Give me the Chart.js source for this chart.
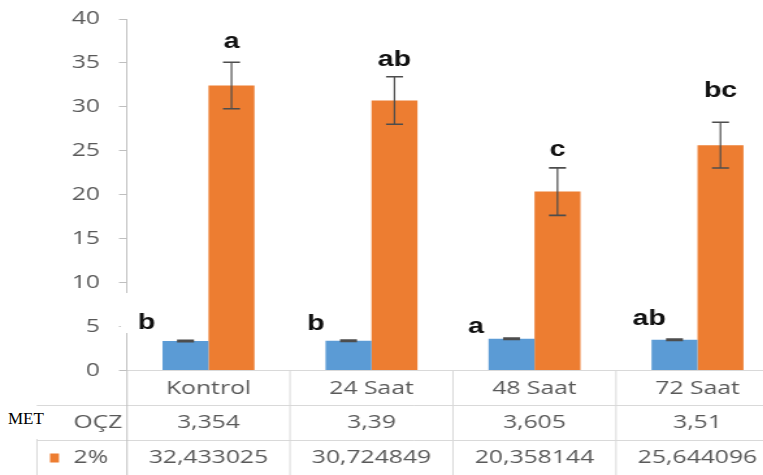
<!DOCTYPE html>
<html>
<head>
<meta charset="utf-8">
<script src="https://cdn.jsdelivr.net/npm/chart.js@4"></script>
<style>
  html, body { margin: 0; padding: 0; background: #fff; overflow: hidden; width: 763px; height: 475px; }
  #wrap { position: relative; width: 763px; height: 475px; overflow: hidden; }
  #c { position: absolute; left: 0; top: 0; transform: scaleX(1.3); transform-origin: 0 0; }
  #met { position: absolute; left: 0; top: 406px; width: 72px; height: 33px; background: #fff;
         font: 17px "Liberation Serif", "Times New Roman", serif; color: #000;
         line-height: 26px; padding-left: 8px; box-sizing: border-box; }
</style>
</head>
<body>
<div id="wrap">
  <canvas id="c" width="608" height="475"></canvas>
  <div id="met">MET</div>
</div>
<script>
// Categories and series
const categories = ['Kontrol', '24 Saat', '48 Saat', '72 Saat'];
const seriesNames = ['OÇZ', '2%'];
const valuesOCZ = [3.354, 3.39, 3.605, 3.51];
const values2 = [32.433025, 30.724849, 20.358144, 25.644096];
// Error bar half-lengths
const errorsOCZ = [0.08, 0.08, 0.08, 0.08];
const errors2 = [2.65, 2.7, 2.7, 2.6];
// Significance letters
const lettersOCZ = ['b', 'b', 'a', 'ab'];
const letters2 = ['a', 'ab', 'c', 'bc'];
// Value axis
const yMin = 0, yMax = 40, yStep = 5;

const BLUE = '#5b9bd5', ORANGE = '#ed7d31';
const TEXT = '#595959', RULE = '#d9d9d9', AXIS = '#bfbfbf';
const K = 1.3;               // horizontal stretch applied to the canvas
const sx = v => v / K;       // screen px -> canvas px (horizontal)
const fmt = v => String(v).replace('.', ',');

const errorSets = [errorsOCZ, errors2];

// Error bars plus significance letters
const annotate = {
  id: 'annotate',
  beforeDatasetsDraw(chart, args, opts) {
    // white label boxes behind the letters of the first series
    const {ctx} = chart;
    const meta = chart.getDatasetMeta(0);
    const y = chart.scales.y;
    ctx.save();
    ctx.font = opts.font;
    meta.data.forEach((bar, i) => {
      const cx = bar.x + sx(opts.shiftOCZ[i]);
      const base = y.getPixelForValue(valuesOCZ[i]) - opts.liftOCZ[i];
      const w = ctx.measureText(lettersOCZ[i]).width;
      ctx.fillStyle = '#fff';
      ctx.fillRect(cx - w / 2 - sx(17), base - 36, w + sx(21), 40);
    });
    ctx.restore();
  },
  afterDatasetsDraw(chart, args, opts) {
    const {ctx} = chart;
    const y = chart.scales.y;
    ctx.save();
    chart.data.datasets.forEach((ds, d) => {
      const meta = chart.getDatasetMeta(d);
      meta.data.forEach((bar, i) => {
        const v = ds.data[i], e = errorSets[d][i];
        const top = y.getPixelForValue(v + e), bot = y.getPixelForValue(v - e);
        ctx.strokeStyle = '#4d4d4d';
        ctx.lineWidth = 1.2;
        ctx.beginPath(); ctx.moveTo(bar.x, top); ctx.lineTo(bar.x, bot); ctx.stroke();
        ctx.lineWidth = 1.6;
        const hw = sx(8.5);
        ctx.beginPath();
        ctx.moveTo(bar.x - hw, top); ctx.lineTo(bar.x + hw, top);
        ctx.moveTo(bar.x - hw, bot); ctx.lineTo(bar.x + hw, bot);
        ctx.stroke();
      });
    });
    ctx.font = opts.font;
    ctx.fillStyle = '#111';
    ctx.textAlign = 'center';
    ctx.textBaseline = 'alphabetic';
    chart.getDatasetMeta(1).data.forEach((bar, i) => {
      const top = y.getPixelForValue(values2[i] + errors2[i]);
      ctx.fillText(letters2[i], bar.x, top - opts.lift2[i]);
    });
    chart.getDatasetMeta(0).data.forEach((bar, i) => {
      const base = y.getPixelForValue(valuesOCZ[i]) - opts.liftOCZ[i];
      ctx.fillText(lettersOCZ[i], bar.x + sx(opts.shiftOCZ[i]), base);
    });
    ctx.restore();
  }
};

// Data table under the plot
const dataTable = {
  id: 'dataTable',
  afterDraw(chart, args, opts) {
    const {ctx, chartArea: a} = chart;
    const W = chart.width, H = chart.height;
    const step = (a.right - a.left) / categories.length;
    const rowH = 35;
    const r1 = a.bottom + rowH, r2 = a.bottom + 2 * rowH;
    const legendLeft = sx(37);
    const line = (x1, y1, x2, y2, c) => {
      ctx.strokeStyle = c; ctx.lineWidth = 1;
      ctx.beginPath(); ctx.moveTo(x1, y1); ctx.lineTo(x2, y2); ctx.stroke();
    };
    ctx.save();
    line(a.left, a.bottom, W, a.bottom, RULE);
    line(legendLeft, r1, W, r1, RULE);
    line(legendLeft, r2, W, r2, RULE);
    line(legendLeft, r1, legendLeft, H, RULE);
    line(a.left, a.bottom, a.left, H, AXIS);
    for (let i = 1; i <= categories.length; i++) {
      const x = a.left + i * step;
      line(x, a.bottom, x, H, RULE);
    }
    ctx.font = opts.font;
    ctx.fillStyle = TEXT;
    ctx.textBaseline = 'middle';
    ctx.textAlign = 'center';
    const rows = [valuesOCZ, values2];
    categories.forEach((c, i) => {
      const cx = a.left + (i + 0.5) * step;
      ctx.fillText(c, cx, a.bottom + 18);
      rows.forEach((vals, r) => ctx.fillText(fmt(vals[i]), cx, a.bottom + (r + 1) * rowH + 17.5));
    });
    // legend keys and series names
    const colors = [BLUE, ORANGE];
    ctx.textAlign = 'left';
    seriesNames.forEach((name, r) => {
      const cy = a.bottom + (r + 1) * rowH + 17.5;
      ctx.fillStyle = colors[r];
      ctx.fillRect(sx(50), cy - 4.5, sx(9), 9);
      ctx.fillStyle = TEXT;
      ctx.fillText(name, sx(73.5), cy);
    });
    ctx.restore();
  }
};

new Chart(document.getElementById('c'), {
  type: 'bar',
  data: {
    labels: categories,
    datasets: [
      { label: seriesNames[0], data: valuesOCZ, backgroundColor: BLUE,
        categoryPercentage: 0.564, barPercentage: 1 },
      { label: seriesNames[1], data: values2, backgroundColor: ORANGE,
        categoryPercentage: 0.564, barPercentage: 1 }
    ]
  },
  options: {
    responsive: false,
    animation: false,
    devicePixelRatio: 1,
    layout: { padding: { left: 0, top: 19, right: 608 - sx(779), bottom: 104.5 } },
    plugins: {
      legend: { display: false },
      tooltip: { enabled: false },
      annotate: {
        font: 'bold 22px "Liberation Sans", Arial, sans-serif',
        lift2: [14, 11, 12, 25],
        liftOCZ: [12, 11, 6, 15],
        shiftOCZ: [-39, -32.5, -35.5, -25.5]
      },
      dataTable: { font: '19px "Open Sans", sans-serif' }
    },
    scales: {
      x: { display: false },
      y: {
        min: yMin, max: yMax,
        afterFit(scale) {
          scale.width = sx(127);
          scale.paddingTop = 0;
          scale.paddingBottom = 0;
        },
        ticks: { stepSize: yStep, color: TEXT, padding: 14.6,
                 font: { family: 'Open Sans', size: 19 } },
        grid: { drawOnChartArea: false, drawTicks: true, tickLength: sx(8), color: AXIS },
        border: { display: true, color: AXIS, width: 1 }
      }
    }
  },
  plugins: [annotate, dataTable]
});
</script>
</body>
</html>
